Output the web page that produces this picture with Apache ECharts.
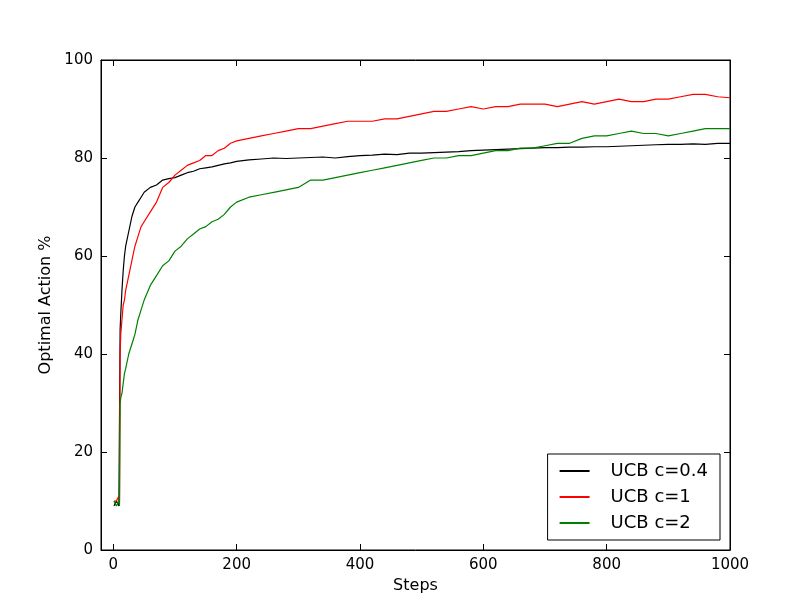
<!DOCTYPE html>
<html>
<head>
<meta charset="utf-8">
<script src="https://cdn.jsdelivr.net/npm/echarts@6/dist/echarts.min.js"></script>
<style>html,body{margin:0;padding:0;background:#fff}#main{width:812px;height:612px}</style>
</head>
<body>
<div id="main"></div>
<script>
var steps = [1,5,9,10,11,12,14,16,18,20,25,30,35,40,45,50,60,70,80,90,100,110,120,130,140,150,160,170,180,190,200,
  220,240,260,280,300,320,340,360,380,400,420,440,460,480,500,520,540,560,580,600,
  620,640,660,680,700,720,740,760,780,800,820,840,860,880,900,920,940,960,980,1000];

var ucb04 = [9,10,9,9,45,48,53,57,60,62,65,68,70,71,72,73,74,74.5,75.5,75.8,76,76.5,77,77.3,77.8,78,78.2,78.5,78.8,79,79.3,
  79.6,79.8,80,79.9,80,80.1,80.2,80,80.3,80.5,80.6,80.8,80.7,81,81,81.1,81.2,81.3,81.5,81.6,
  81.7,81.8,81.9,82,82.1,82.1,82.2,82.2,82.3,82.3,82.4,82.5,82.6,82.7,82.8,82.8,82.9,82.8,83,83];

var ucb1 = [10,10,11,10,40,44,47,50,51,53,56,59,62,64,66,67,69,71,74,75,76.5,77.5,78.5,79,79.5,80.5,80.5,81.5,82,83,83.5,
  84,84.5,85,85.5,86,86,86.5,87,87.5,87.5,87.5,88,88,88.5,89,89.5,89.5,90,90.5,90,
  90.5,90.5,91,91,91,90.5,91,91.5,91,91.5,92,91.5,91.5,92,92,92.5,93,93,92.5,92.3];

var ucb2 = [10,9,10,9,30,31,32,34,36,37,40,42,44,47,49,51,54,56,58,59,61,62,63.5,64.5,65.5,66,67,67.5,68.5,70,71,
  72,72.5,73,73.5,74,75.5,75.5,76,76.5,77,77.5,78,78.5,79,79.5,80,80,80.5,80.5,81,
  81.5,81.5,82,82,82.5,83,83,84,84.5,84.5,85,85.5,85,85,84.5,85,85.5,86,86,86];

var xTicks = [0,200,400,600,800,1000];
var seriesNames = ['UCB c=0.4','UCB c=1','UCB c=2'];
var seriesColors = ['#000000','#ff0000','#008000'];

function pairs(ys){ return steps.map(function(s,i){ return [s, ys[i]]; }); }

var font = 'DejaVu Sans';
var chart = echarts.init(document.getElementById('main'));
var xBase = {
  type:'value', min:-20, max:1000,
  axisLine:{show:true, onZero:false, lineStyle:{color:'#000'}},
  axisTick:{inside:true, length:6, customValues:xTicks, lineStyle:{color:'#000'}},
  splitLine:{show:false}
};
var yBase = {
  type:'value', min:0, max:100, interval:20,
  axisLine:{show:true, onZero:false, lineStyle:{color:'#000'}},
  axisTick:{inside:true, length:6, lineStyle:{color:'#000'}},
  splitLine:{show:false}
};
chart.setOption({
  animation:false,
  grid:{left:101, right:82, top:60, bottom:62, show:true, borderColor:'#000', borderWidth:1},
  legend:{
    data:seriesNames, orient:'vertical', right:92, bottom:72,
    backgroundColor:'#fff', borderColor:'#000', borderWidth:1, borderRadius:0,
    padding:[8,12,8,12], itemGap:8, itemWidth:30, itemHeight:2, icon:'rect',
    textStyle:{fontFamily:font, fontSize:18, color:'#000', padding:[0,0,0,16]}
  },
  xAxis:[
    Object.assign({}, xBase, {position:'bottom', name:'Steps', nameLocation:'middle', nameGap:26,
      nameTextStyle:{fontFamily:font, fontSize:16, color:'#000'},
      axisLabel:{customValues:xTicks, formatter:function(v){ return String(v); },
        fontFamily:font, fontSize:15, color:'#000', margin:8}}),
    Object.assign({}, xBase, {position:'top', axisLabel:{show:false}})
  ],
  yAxis:[
    Object.assign({}, yBase, {position:'left', name:'Optimal Action %', nameLocation:'middle', nameGap:44,
      nameTextStyle:{fontFamily:font, fontSize:16, color:'#000'},
      axisLabel:{fontFamily:font, fontSize:15, color:'#000', margin:8}}),
    Object.assign({}, yBase, {position:'right', axisLabel:{show:false}})
  ],
  series:seriesNames.map(function(n,i){
    return {name:n, type:'line', showSymbol:false, symbol:'none',
      data:pairs([ucb04,ucb1,ucb2][i]),
      lineStyle:{color:seriesColors[i], width:1.2}, itemStyle:{color:seriesColors[i]}};
  })
});
</script>
</body>
</html>
